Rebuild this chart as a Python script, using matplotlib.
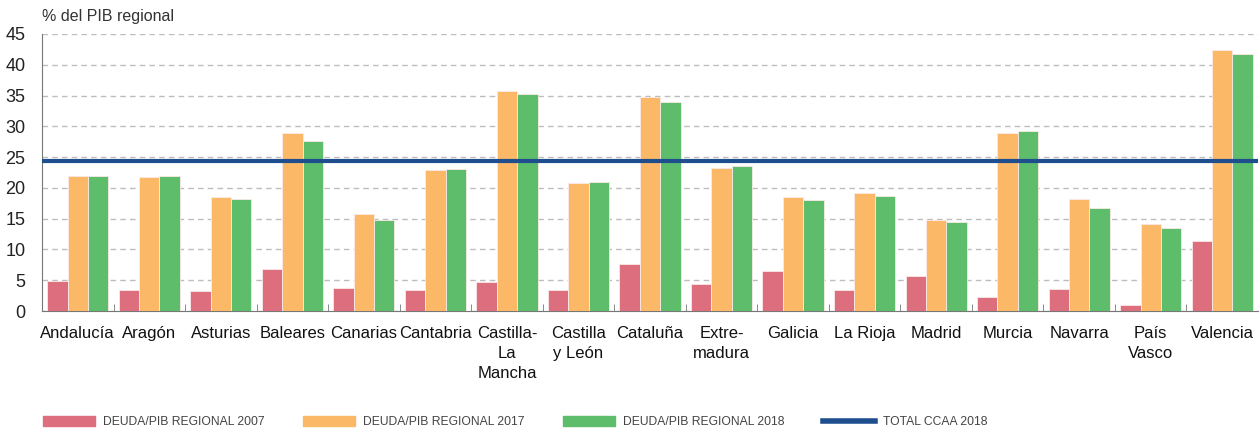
import matplotlib
matplotlib.use("Agg")
import matplotlib.pyplot as plt
import numpy as np
from matplotlib.patches import Patch
from matplotlib.lines import Line2D

# Data
regions = ["Andalucía", "Aragón", "Asturias", "Baleares", "Canarias", "Cantabria",
           "Castilla-\nLa\nMancha", "Castilla\ny León", "Cataluña", "Extre-\nmadura",
           "Galicia", "La Rioja", "Madrid", "Murcia", "Navarra", "País\nVasco", "Valencia"]
deuda_2007 = [4.8, 3.4, 3.2, 6.8, 3.7, 3.35, 4.65, 3.35, 7.7, 4.4,
              6.5, 3.45, 5.7, 2.3, 3.55, 1.0, 11.3]
deuda_2017 = [21.9, 21.8, 18.5, 28.85, 15.8, 22.9, 35.75, 20.8, 34.7, 23.3,
              18.5, 19.2, 14.85, 28.85, 18.25, 14.15, 42.45]
deuda_2018 = [21.9, 21.9, 18.25, 27.55, 14.75, 23.1, 35.2, 21.0, 33.9, 23.6,
              18.0, 18.75, 14.5, 29.3, 16.8, 13.45, 41.8]
total_ccaa_2018 = 24.4

labels = ["DEUDA/PIB REGIONAL 2007", "DEUDA/PIB REGIONAL 2017",
          "DEUDA/PIB REGIONAL 2018", "TOTAL CCAA 2018"]
colors = ["#DC6E7E", "#FBB866", "#5EBD6B", "#1F4E8F"]

plt.rcParams['font.family'] = ['Liberation Sans', 'DejaVu Sans']

fig = plt.figure(figsize=(12.6, 4.3), dpi=100)
ax = fig.add_axes([42 / 1260, 1 - 311 / 430, 1216 / 1260, 277 / 430])

x = np.arange(len(regions))
w = 0.285
for i, vals in enumerate([deuda_2007, deuda_2017, deuda_2018]):
    ax.bar(x + (i - 1) * w, vals, width=w, color=colors[i],
           edgecolor="#fbe9e9", linewidth=0.6, zorder=3)

ax.axhline(total_ccaa_2018, color=colors[3], linewidth=3, zorder=4)

ax.set_xlim(-0.5, len(regions) - 0.5)
ax.set_ylim(0, 45)
ax.set_yticks(range(0, 50, 5))
ax.yaxis.grid(True, linestyle=(0, (4, 3)), color="#bdbdbd", linewidth=1, zorder=0)
ax.tick_params(axis="y", length=0, labelsize=13, pad=12, colors="#222222")

ax.set_xticks(x)
ax.set_xticklabels(regions, fontsize=12, linespacing=1.4)
ax.tick_params(axis="x", which="major", length=0, pad=11, colors="#111111")
ax.set_xticks(np.arange(0.5, len(regions) - 1, 1), minor=True)
ax.tick_params(axis="x", which="minor", direction="in", length=5, color="#777777")

for s in ["top", "right"]:
    ax.spines[s].set_visible(False)
ax.spines["left"].set_color("#777777")
ax.spines["bottom"].set_color("#777777")

fig.text(42 / 1260, 1 - 16 / 430, "% del PIB regional", fontsize=11.5,
         color="#333333", va="center", ha="left")

handles = [Patch(color=colors[0]), Patch(color=colors[1]), Patch(color=colors[2]),
           Line2D([0], [0], color=colors[3], linewidth=4)]
fig.legend(handles, labels, loc="center left", bbox_to_anchor=(32 / 1260, 1 - 422 / 430),
           ncol=4, frameon=False, fontsize=8.7, handlelength=4.3, handleheight=0.9,
           columnspacing=3.2, handletextpad=0.65, labelcolor="#444444")

fig.savefig("out.png", dpi=100)
